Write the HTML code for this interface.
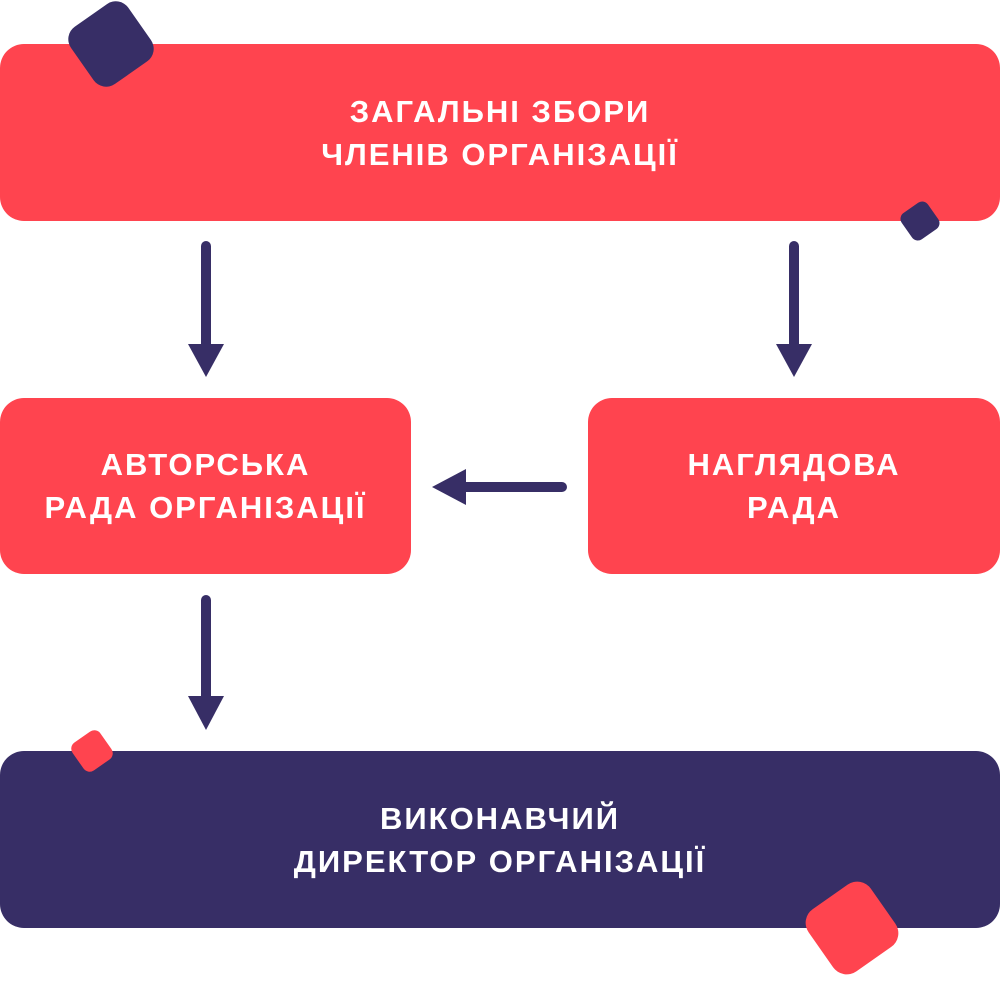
<!DOCTYPE html>
<html><head><meta charset="utf-8"><style>
body{margin:0;width:1000px;height:979px;background:#fff;position:relative;overflow:hidden;font-family:"Liberation Sans","DejaVu Sans",sans-serif}
.b{position:absolute;border-radius:24px;color:#fff;font-weight:bold;font-size:31px;letter-spacing:2px;display:flex;align-items:center;justify-content:center;text-align:center;line-height:43px}
.r{background:#ff444f}.d{background:#372e66}
.sq{position:absolute;border-radius:22%}
</style></head><body>
<div class="b r" style="left:0;top:44px;width:1000px;height:177px">ЗАГАЛЬНІ ЗБОРИ<br>ЧЛЕНІВ ОРГАНІЗАЦІЇ</div>
<div class="b r" style="left:0;top:398px;width:411px;height:176px">АВТОРСЬКА<br>РАДА ОРГАНІЗАЦІЇ</div>
<div class="b r" style="left:588px;top:398px;width:412px;height:176px">НАГЛЯДОВА<br>РАДА</div>
<div class="b d" style="left:0;top:751px;width:1000px;height:177px">ВИКОНАВЧИЙ<br>ДИРЕКТОР ОРГАНІЗАЦІЇ</div>
<div class="sq d" style="left:76px;top:9px;width:70px;height:70px;transform:rotate(-35deg)"></div>
<div class="sq d" style="left:904px;top:205px;width:32px;height:32px;transform:rotate(-35deg)"></div>
<div class="sq r" style="left:75px;top:734px;width:34px;height:34px;transform:rotate(-35deg)"></div>
<div class="sq r" style="left:814px;top:890px;width:76px;height:76px;transform:rotate(-35deg)"></div>
<svg width="1000" height="979" style="position:absolute;left:0;top:0">
<g fill="#372e66" stroke="#372e66" stroke-width="10" stroke-linecap="round">
<line x1="206" y1="246" x2="206" y2="348"/><polygon stroke="none" points="188,344 224,344 206,377"/>
<line x1="794" y1="246" x2="794" y2="348"/><polygon stroke="none" points="776,344 812,344 794,377"/>
<line x1="206" y1="600" x2="206" y2="700"/><polygon stroke="none" points="188,696 224,696 206,730"/>
<line x1="562" y1="487" x2="462" y2="487"/><polygon stroke="none" points="466,469 466,505 432,487"/>
</g></svg>
</body></html>
